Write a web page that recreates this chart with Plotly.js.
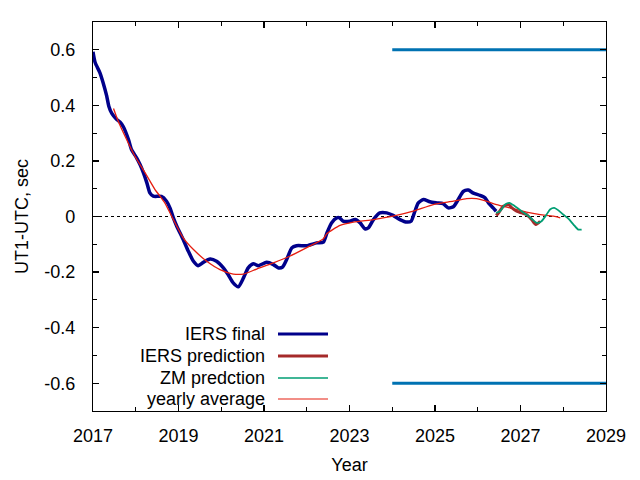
<!DOCTYPE html>
<html>
<head>
<meta charset="utf-8">
<script src="https://cdn.plot.ly/plotly-3.0.1.min.js"></script>
<style>html,body{margin:0;padding:0;background:#fff;}#chart{width:640px;height:480px;}</style>
</head>
<body>
<div id="chart"></div>
<script>
// IERS final
const finalYears = [2017.00,2017.05,2017.16,2017.24,2017.32,2017.37,2017.44,2017.55,2017.63,2017.71,2017.83,2017.90,2018.02,2018.10,2018.18,2018.26,2018.33,2018.41,2018.60,2018.72,2018.80,2018.88,2018.96,2019.11,2019.23,2019.35,2019.46,2019.58,2019.74,2019.89,2020.05,2020.16,2020.28,2020.40,2020.52,2020.63,2020.75,2020.87,2021.06,2021.22,2021.34,2021.44,2021.53,2021.65,2021.76,2022.00,2022.23,2022.39,2022.47,2022.58,2022.70,2022.77,2022.85,2023.01,2023.13,2023.25,2023.36,2023.44,2023.56,2023.71,2023.87,2024.02,2024.18,2024.34,2024.44,2024.53,2024.61,2024.73,2024.88,2025.04,2025.19,2025.31,2025.43,2025.55,2025.66,2025.78,2025.90,2026.05,2026.17,2026.25,2026.36,2026.43];
const finalValues = [0.593,0.554,0.518,0.48,0.434,0.397,0.371,0.35,0.34,0.323,0.277,0.241,0.211,0.187,0.157,0.121,0.085,0.073,0.072,0.055,0.031,-0.005,-0.035,-0.083,-0.125,-0.161,-0.177,-0.165,-0.153,-0.161,-0.185,-0.209,-0.239,-0.253,-0.221,-0.185,-0.170,-0.177,-0.165,-0.173,-0.185,-0.181,-0.155,-0.113,-0.105,-0.105,-0.095,-0.092,-0.06,-0.023,-0.005,-0.005,-0.017,-0.017,-0.011,-0.023,-0.044,-0.041,-0.011,0.013,0.013,0.004,-0.011,-0.020,-0.017,0.019,0.049,0.061,0.053,0.049,0.046,0.031,0.035,0.063,0.09,0.095,0.084,0.076,0.067,0.049,0.031,0.019];

// IERS prediction
const iersPredYears = [2026.43,2026.48,2026.60,2026.72,2026.80,2026.91,2027.03,2027.14,2027.26,2027.36,2027.46];
const iersPredValues = [0.004,0.012,0.037,0.043,0.031,0.019,0.013,0.007,-0.011,-0.029,-0.017];

// ZM prediction
const zmYears = [2026.43,2026.52,2026.64,2026.74,2026.87,2027.03,2027.14,2027.26,2027.38,2027.49,2027.61,2027.69,2027.79,2027.88,2028.00,2028.12,2028.24,2028.35,2028.43];
const zmValues = [0.013,0.019,0.043,0.049,0.037,0.019,0.007,-0.008,-0.023,-0.017,0.007,0.025,0.031,0.023,0.007,-0.008,-0.029,-0.047,-0.047];

// yearly average
const avgYears = [2017.48,2017.59,2017.75,2017.98,2018.22,2018.45,2018.57,2018.68,2018.84,2019.11,2019.35,2019.66,2019.97,2020.28,2020.52,2020.83,2021.22,2021.60,2022.00,2022.39,2022.47,2022.78,2023.09,2023.56,2024.02,2024.49,2024.96,2025.43,2025.74,2025.97,2026.20,2026.44,2026.75,2027.14,2027.46,2027.77,2027.93];
const avgValues = [0.389,0.343,0.289,0.217,0.157,0.097,0.073,0.049,0.001,-0.077,-0.119,-0.161,-0.191,-0.207,-0.207,-0.189,-0.167,-0.143,-0.112,-0.08,-0.062,-0.032,-0.02,-0.011,0.001,0.019,0.043,0.055,0.064,0.064,0.055,0.043,0.031,0.016,0.007,0.001,-0.005];

// leap-second limits
const limitYears = [2024, 2029];
const upperLimit = [0.6, 0.6];
const lowerLimit = [-0.6, -0.6];
const zeroYears = [2017, 2029];
const zeroValues = [0, 0];

const xTicks = [2017,2019,2021,2023,2025,2027,2029];
const yTicks = [-0.6,-0.4,-0.2,0,0.2,0.4,0.6];
const yTickText = ['-0.6','-0.4','-0.2','0','0.2','0.4','0.6'];

const legendNames = ['IERS final','IERS prediction','ZM predction','yearly average'];
const colors = {final:'#00008b', pred:'#a52a2a', zm:'#009e73', avg:'#e51e10', lim:'#0072b2'};
const legendColors = [colors.final, colors.pred, colors.zm, colors.avg];
const legendWidths = [3, 3, 1.5, 1.2];

const font = 'Liberation Sans, Arial, sans-serif';

const traces = [
  {x: zeroYears, y: zeroValues, mode:'lines', line:{color:'#000', width:1, dash:'dot'}, hoverinfo:'skip'},
  {x: limitYears, y: upperLimit, mode:'lines', line:{color:colors.lim, width:3}},
  {x: limitYears, y: lowerLimit, mode:'lines', line:{color:colors.lim, width:3}},
  {x: finalYears, y: finalValues, mode:'lines', name:legendNames[0], line:{color:colors.final, width:3.5, shape:'spline', smoothing:0.6}},
  {x: avgYears, y: avgValues, mode:'lines', name:legendNames[3], line:{color:colors.avg, width:1.3, shape:'spline', smoothing:0.6}},
  {x: iersPredYears, y: iersPredValues, mode:'lines', name:legendNames[1], line:{color:colors.pred, width:3, shape:'spline', smoothing:0.6}},
  {x: zmYears, y: zmValues, mode:'lines', name:legendNames[2], line:{color:colors.zm, width:1.8, shape:'spline', smoothing:0.6}}
];

const annotations = [];
const shapes = [];
const rowY = [334, 356, 378, 399];
for (let i = 0; i < legendNames.length; i++) {
  const yp = 1 - (rowY[i] - 22) / (411 - 22);
  annotations.push({xref:'paper', yref:'paper', x:(267-93)/(606-93), y:yp, xanchor:'right', yanchor:'middle', text:legendNames[i], showarrow:false, font:{family:font, size:18, color:'#000'}});
  shapes.push({type:'line', xref:'paper', yref:'paper', x0:(278-93)/(606-93), x1:(328-93)/(606-93), y0:yp, y1:yp, line:{color:legendColors[i], width:legendWidths[i]}});
}

const axisCommon = {
  showgrid:false, zeroline:false, showline:true, linecolor:'#000', linewidth:1.2, mirror:'ticks',
  ticks:'inside', ticklen:6, tickwidth:1.2, tickcolor:'#000',
  tickfont:{family:font, size:18, color:'#000'}
};

const layout = {
  width:640, height:480,
  margin:{l:93, r:34, t:22, b:69},
  paper_bgcolor:'#fff', plot_bgcolor:'#fff',
  showlegend:false,
  font:{family:font, color:'#000'},
  xaxis: Object.assign({}, axisCommon, {
    range:[2017, 2029], tickvals:xTicks, ticktext:xTicks.map(String),
    minor:{dtick:1, tick0:2017, ticks:'inside', ticklen:4, tickwidth:1.2, tickcolor:'#000'},
    ticklabelstandoff:8,
    title:{text:'Year', font:{family:font, size:18, color:'#000'}, standoff:13}
  }),
  yaxis: Object.assign({}, axisCommon, {
    range:[-0.7, 0.7], tickvals:yTicks, ticktext:yTickText,
    minor:{dtick:0.1, tick0:0, ticks:'inside', ticklen:4, tickwidth:1.2, tickcolor:'#000'},
    ticklabelstandoff:13,
    title:{text:'UT1-UTC, sec', font:{family:font, size:18, color:'#000'}, standoff:10}
  }),
  annotations: annotations,
  shapes: shapes
};

Plotly.newPlot('chart', traces, layout, {displayModeBar:false, staticPlot:true});
</script>
</body>
</html>
